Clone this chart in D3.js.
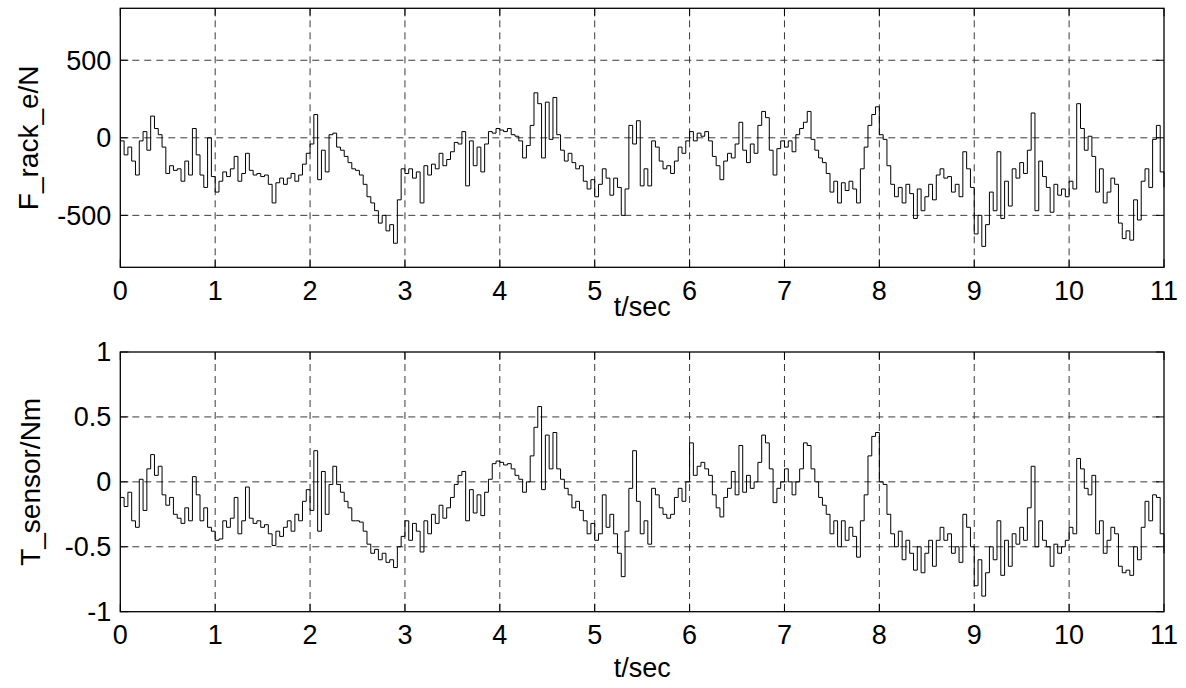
<!DOCTYPE html>
<html><head><meta charset="utf-8">
<script src="https://cdn.jsdelivr.net/npm/d3@7"></script>
<style>body{margin:0;background:#fff} svg text{font-family:Arial,"Liberation Sans",sans-serif;fill:#000}</style>
</head><body><svg id="c" width="1186" height="688"></svg>
<script>
const sampleStep = 0.04;
const xTicks = [0,1,2,3,4,5,6,7,8,9,10,11];
const forceTicks = [-500,0,500];
const torqueTicks = [-1,-0.5,0,0.5,1];
const forceTickLabels = ["-500","0","500"];
const torqueTickLabels = ["-1","-0.5","0","0.5","1"];
const xLabel = "t/sec";
const forceLabel = "F_rack_e/N";
const torqueLabel = "T_sensor/Nm";

const forceValues = [
-20,-110,-60,-150,-240,-20,40,-80,140,60,20,-60,-230,-180,-210,-200,-280,-150,-240,60,-110,-240,-320,0,-250,
-350,-280,-220,-250,-200,-120,-280,-230,-100,-210,-240,-230,-250,-240,-300,-420,-290,-260,-300,-260,-230,-280,-240,-170,-100,
-40,150,-270,-80,-220,20,30,-60,-80,-120,-160,-200,-210,-240,-300,-380,-420,-470,-550,-500,-600,-560,-680,-400,-200,
-230,-200,-260,-220,-420,-180,-240,-170,-200,-100,-180,-140,-90,-30,-40,40,-310,-20,-180,-60,-220,-40,40,30,60,
50,40,60,20,10,-20,-130,-50,80,290,220,-130,230,-10,260,20,-80,-150,-100,-160,-200,-180,-280,-330,-270,
-380,-300,-200,-260,-370,-260,-320,-500,-330,80,-40,110,-310,-200,-310,-20,-60,-150,-200,-180,-230,-150,-60,-100,-20,
40,-20,30,10,40,-20,-120,-180,-270,-150,-100,-130,-40,100,-80,-160,-40,-100,80,170,130,-80,-240,-70,-20,
-60,-20,-90,20,60,100,170,-10,-80,-130,-160,-230,-350,-280,-420,-290,-340,-280,-330,-420,-200,-60,80,150,200,
20,-10,-180,-300,-380,-320,-420,-300,-360,-520,-330,-470,-380,-300,-400,-240,-200,-260,-250,-350,-300,-380,-90,-200,-320,
-620,-500,-700,-560,-350,-470,-90,-520,-280,-440,-200,-260,-160,-230,-80,160,-470,-150,-250,-320,-480,-300,-370,-330,-380,
-280,-330,220,60,-80,10,-120,-350,-200,-420,-350,-260,-300,-550,-650,-600,-660,-400,-530,-280,-200,-320,-10,80,-220,-320
];

const torqueValues = [
-0.12,-0.19,-0.08,-0.30,-0.35,0.02,-0.22,0.10,0.21,0.05,0.12,-0.10,-0.18,-0.12,-0.25,-0.28,-0.32,-0.20,-0.30,0.04,-0.10,-0.30,-0.20,-0.35,-0.38,
-0.45,-0.44,-0.30,-0.35,-0.28,-0.12,-0.40,-0.30,-0.04,-0.28,-0.32,-0.30,-0.35,-0.33,-0.40,-0.49,-0.38,-0.42,-0.35,-0.30,-0.38,-0.25,-0.30,-0.15,-0.06,
-0.22,0.24,-0.38,0.08,-0.25,-0.02,0.12,-0.02,-0.08,-0.15,-0.20,-0.30,-0.30,-0.31,-0.38,-0.48,-0.55,-0.52,-0.60,-0.55,-0.62,-0.60,-0.66,-0.50,-0.42,
-0.30,-0.45,-0.32,-0.38,-0.54,-0.30,-0.40,-0.25,-0.32,-0.18,-0.28,-0.20,-0.12,-0.02,0.05,0.08,-0.30,-0.06,-0.24,-0.10,-0.26,-0.08,0.02,0.14,0.16,
0.15,0.13,0.14,0.10,0.05,0.02,-0.08,0.00,0.20,0.42,0.58,-0.06,0.36,0.10,0.38,0.10,0.02,-0.05,-0.10,-0.20,-0.15,-0.22,-0.30,-0.40,-0.32,
-0.45,-0.40,-0.10,-0.35,-0.25,-0.40,-0.55,-0.73,-0.38,-0.05,0.24,-0.15,-0.40,-0.30,-0.48,-0.05,-0.10,-0.20,-0.25,-0.28,-0.25,-0.12,-0.05,-0.15,0.00,
0.30,0.05,0.12,0.15,0.10,0.05,-0.10,-0.20,-0.27,-0.12,-0.05,0.08,-0.10,0.28,-0.08,0.05,-0.05,0.00,0.15,0.36,0.30,0.10,-0.16,-0.05,0.00,
0.10,0.00,-0.10,0.00,0.10,0.30,0.28,0.10,0.00,-0.12,-0.18,-0.25,-0.40,-0.30,-0.50,-0.30,-0.45,-0.35,-0.42,-0.58,-0.30,-0.10,0.20,0.35,0.38,
0.00,-0.02,-0.25,-0.40,-0.50,-0.38,-0.60,-0.45,-0.55,-0.68,-0.50,-0.70,-0.55,-0.45,-0.65,-0.45,-0.35,-0.45,-0.40,-0.55,-0.50,-0.62,-0.25,-0.35,-0.50,
-0.80,-0.60,-0.88,-0.70,-0.50,-0.60,-0.30,-0.72,-0.45,-0.65,-0.40,-0.48,-0.35,-0.45,-0.20,0.12,-0.50,-0.30,-0.45,-0.50,-0.65,-0.48,-0.55,-0.50,-0.45,
-0.35,-0.40,0.18,0.10,-0.05,-0.10,0.05,-0.40,-0.30,-0.55,-0.45,-0.35,-0.40,-0.65,-0.70,-0.68,-0.72,-0.50,-0.60,-0.35,-0.15,-0.30,-0.10,-0.12,-0.40,-0.55
];

const svg = d3.select("#c");
const left = 120.3, right = 1164;
const x = d3.scaleLinear().domain([0, 11]).range([left, right]);

const panels = [
  {values: forceValues, domain: [-835, 835], top: 8.3, bottom: 267.3, ticks: forceTicks, tickLabels: forceTickLabels,
   label: forceLabel, labelX: 28, tickOff: 23, xLabelY: 307},
  {values: torqueValues, domain: [-1, 1], top: 352, bottom: 611.7, ticks: torqueTicks, tickLabels: torqueTickLabels,
   label: torqueLabel, labelX: 30, tickOff: 23, xLabelY: 668}
];

panels.forEach(p => {
  const y = d3.scaleLinear().domain(p.domain).range([p.bottom, p.top]);
  const g = svg.append("g");
  g.append("g").selectAll("line").data(xTicks.slice(1, -1)).join("line")
    .attr("x1", d => x(d)).attr("x2", d => x(d)).attr("y1", p.top).attr("y2", p.bottom)
    .attr("stroke", "#3a3a3a").attr("stroke-width", 1).attr("stroke-dasharray", "7,5");
  g.append("g").selectAll("line").data(p.ticks.filter(t => y(t) > p.top + 1 && y(t) < p.bottom - 1)).join("line")
    .attr("x1", left).attr("x2", right).attr("y1", d => y(d)).attr("y2", d => y(d))
    .attr("stroke", "#3a3a3a").attr("stroke-width", 1).attr("stroke-dasharray", "7,5");
  const data = p.values.map((v, i) => [i * sampleStep, v]);
  const line = d3.line().x(d => x(d[0])).y(d => y(d[1])).curve(d3.curveStepAfter);
  g.append("path").datum(data).attr("d", line).attr("fill", "none")
    .attr("stroke", "#000").attr("stroke-width", 1);
  const tl = 8;
  g.append("g").selectAll("line").data(xTicks).join("line")
    .attr("x1", d => x(d)).attr("x2", d => x(d)).attr("y1", p.bottom).attr("y2", p.bottom - tl).attr("stroke", "#000");
  g.append("g").selectAll("line").data(xTicks).join("line")
    .attr("x1", d => x(d)).attr("x2", d => x(d)).attr("y1", p.top).attr("y2", p.top + tl).attr("stroke", "#000");
  g.append("g").selectAll("line").data(p.ticks).join("line")
    .attr("x1", left).attr("x2", left + tl).attr("y1", d => y(d)).attr("y2", d => y(d)).attr("stroke", "#000");
  g.append("g").selectAll("line").data(p.ticks).join("line")
    .attr("x1", right).attr("x2", right - tl).attr("y1", d => y(d)).attr("y2", d => y(d)).attr("stroke", "#000");
  g.append("rect").attr("x", left).attr("y", p.top).attr("width", right - left).attr("height", p.bottom - p.top)
    .attr("fill", "none").attr("stroke", "#000").attr("stroke-width", 1.3);
  g.append("g").selectAll("text").data(xTicks).join("text")
    .attr("x", d => x(d)).attr("y", p.bottom + p.tickOff).attr("text-anchor", "middle")
    .attr("dy", "0.35em").attr("font-size", 27).text(d => String(d));
  g.append("g").selectAll("text").data(p.ticks).join("text")
    .attr("x", left - 9).attr("y", d => y(d)).attr("text-anchor", "end")
    .attr("dy", "0.35em").attr("font-size", 27).text((d, i) => p.tickLabels[i]);
  g.append("text").attr("x", (left + right) / 2).attr("y", p.xLabelY)
    .attr("text-anchor", "middle").attr("dy", "0.35em").attr("font-size", 27).text(xLabel);
  g.append("text").attr("transform", `translate(${p.labelX},${(p.top + p.bottom) / 2}) rotate(-90)`)
    .attr("text-anchor", "middle").attr("dy", "0.35em").attr("font-size", 28).text(p.label);
});
</script></body></html>
